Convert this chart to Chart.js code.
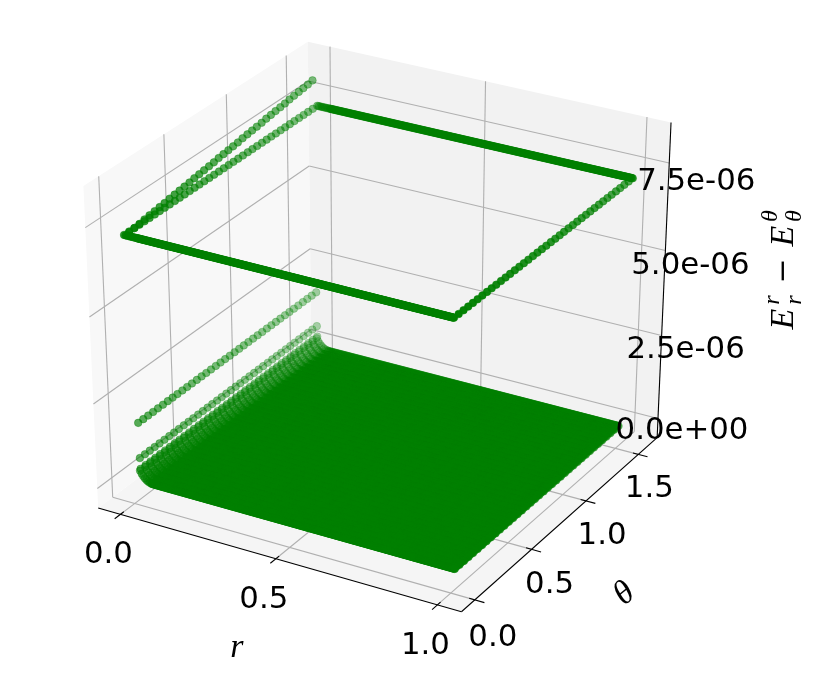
<!DOCTYPE html>
<html>
<head>
<meta charset="utf-8">
<title>chart</title>
<script src="https://cdn.jsdelivr.net/npm/chart.js@4"></script>
<style>
  html, body { margin: 0; padding: 0; background: #fff; }
  canvas { display: block; }
</style>
</head>
<body>
<canvas id="chart3d" width="830" height="699"></canvas>
<script>
// z values are in units of 1e-6
var rTicks = [0, 0.5, 1];
var thetaTicks = [0, 0.5, 1, 1.5];
var zTicks = [0, 2.5, 5, 7.5];
var rTickLabels = ["0.0", "0.5", "1.0"];
var thetaTickLabels = ["0.0", "0.5", "1.0", "1.5"];
var zTickLabels = ["0.0e+00", "2.5e-06", "5.0e-06", "7.5e-06"];

// r is coarse next to the axis, very fine after that
var rValues = [0, 0.005, 0.01, 0.015, 0.02, 0.025, 0.03, 0.035, 0.04,
    0.0425, 0.045, 0.0475, 0.05, 0.0525, 0.055, 0.0575, 0.06, 0.0625, 0.065, 0.0675, 0.07,
    0.0725, 0.075, 0.0775, 0.08, 0.0825, 0.085, 0.0875, 0.09, 0.0925, 0.095, 0.0975,
    0.1, 0.1025, 0.105, 0.1075, 0.11, 0.1125, 0.115, 0.1175, 0.12, 0.1225, 0.125, 0.1275,
    0.13, 0.1325, 0.135, 0.1375, 0.14, 0.1425, 0.145, 0.1475, 0.15, 0.1525, 0.155, 0.1575,
    0.16, 0.1625, 0.165, 0.1675, 0.17, 0.1725, 0.175, 0.1775, 0.18, 0.1825, 0.185, 0.1875,
    0.19, 0.1925, 0.195, 0.1975, 0.2, 0.2025, 0.205, 0.2075, 0.21, 0.2125, 0.215, 0.2175,
    0.22, 0.2225, 0.225, 0.2275, 0.23, 0.2325, 0.235, 0.2375, 0.24, 0.2425, 0.245, 0.2475,
    0.25, 0.2525, 0.255, 0.2575, 0.26, 0.2625, 0.265, 0.2675, 0.27, 0.2725, 0.275, 0.2775,
    0.28, 0.2825, 0.285, 0.2875, 0.29, 0.2925, 0.295, 0.2975, 0.3, 0.3025, 0.305, 0.3075,
    0.31, 0.3125, 0.315, 0.3175, 0.32, 0.3225, 0.325, 0.3275, 0.33, 0.3325, 0.335, 0.3375,
    0.34, 0.3425, 0.345, 0.3475, 0.35, 0.3525, 0.355, 0.3575, 0.36, 0.3625, 0.365, 0.3675,
    0.37, 0.3725, 0.375, 0.3775, 0.38, 0.3825, 0.385, 0.3875, 0.39, 0.3925, 0.395, 0.3975,
    0.4, 0.4025, 0.405, 0.4075, 0.41, 0.4125, 0.415, 0.4175, 0.42, 0.4225, 0.425, 0.4275,
    0.43, 0.4325, 0.435, 0.4375, 0.44, 0.4425, 0.445, 0.4475, 0.45, 0.4525, 0.455, 0.4575,
    0.46, 0.4625, 0.465, 0.4675, 0.47, 0.4725, 0.475, 0.4775, 0.48, 0.4825, 0.485, 0.4875,
    0.49, 0.4925, 0.495, 0.4975, 0.5, 0.5025, 0.505, 0.5075, 0.51, 0.5125, 0.515, 0.5175,
    0.52, 0.5225, 0.525, 0.5275, 0.53, 0.5325, 0.535, 0.5375, 0.54, 0.5425, 0.545, 0.5475,
    0.55, 0.5525, 0.555, 0.5575, 0.56, 0.5625, 0.565, 0.5675, 0.57, 0.5725, 0.575, 0.5775,
    0.58, 0.5825, 0.585, 0.5875, 0.59, 0.5925, 0.595, 0.5975, 0.6, 0.6025, 0.605, 0.6075,
    0.61, 0.6125, 0.615, 0.6175, 0.62, 0.6225, 0.625, 0.6275, 0.63, 0.6325, 0.635, 0.6375,
    0.64, 0.6425, 0.645, 0.6475, 0.65, 0.6525, 0.655, 0.6575, 0.66, 0.6625, 0.665, 0.6675,
    0.67, 0.6725, 0.675, 0.6775, 0.68, 0.6825, 0.685, 0.6875, 0.69, 0.6925, 0.695, 0.6975,
    0.7, 0.7025, 0.705, 0.7075, 0.71, 0.7125, 0.715, 0.7175, 0.72, 0.7225, 0.725, 0.7275,
    0.73, 0.7325, 0.735, 0.7375, 0.74, 0.7425, 0.745, 0.7475, 0.75, 0.7525, 0.755, 0.7575,
    0.76, 0.7625, 0.765, 0.7675, 0.77, 0.7725, 0.775, 0.7775, 0.78, 0.7825, 0.785, 0.7875,
    0.79, 0.7925, 0.795, 0.7975, 0.8, 0.8025, 0.805, 0.8075, 0.81, 0.8125, 0.815, 0.8175,
    0.82, 0.8225, 0.825, 0.8275, 0.83, 0.8325, 0.835, 0.8375, 0.84, 0.8425, 0.845, 0.8475,
    0.85, 0.8525, 0.855, 0.8575, 0.86, 0.8625, 0.865, 0.8675, 0.87, 0.8725, 0.875, 0.8775,
    0.88, 0.8825, 0.885, 0.8875, 0.89, 0.8925, 0.895, 0.8975, 0.9, 0.9025, 0.905, 0.9075,
    0.91, 0.9125, 0.915, 0.9175, 0.92, 0.9225, 0.925, 0.9275, 0.93, 0.9325, 0.935, 0.9375,
    0.94, 0.9425, 0.945, 0.9475, 0.95, 0.9525, 0.955, 0.9575, 0.96, 0.9625, 0.965, 0.9675,
    0.97, 0.9725, 0.975, 0.9775, 0.98, 0.9825, 0.985, 0.9875, 0.99, 0.9925, 0.995, 0.9975, 1];
var thetaValues = [0, 0.039, 0.079, 0.118, 0.157, 0.196, 0.236, 0.275, 0.314, 0.353,
    0.393, 0.432, 0.471, 0.511, 0.55, 0.589, 0.628, 0.668, 0.707, 0.746,
    0.785, 0.825, 0.864, 0.903, 0.942, 0.982, 1.021, 1.06, 1.1, 1.139,
    1.178, 1.217, 1.257, 1.296, 1.335, 1.374, 1.414, 1.453, 1.492, 1.532, 1.571];
// the sheet's far r side is smooth, so it has extra theta stations
var sheetRimR = [0.985, 0.99, 0.995];
var sheetRimTheta = [0.059, 0.098, 0.137, 0.177, 0.216, 0.255, 0.295, 0.334, 0.373, 0.412,
    0.452, 0.491, 0.53, 0.57, 0.609, 0.648, 0.687, 0.727, 0.766, 0.805,
    0.844, 0.884, 0.923, 0.962, 1.001, 1.041, 1.08, 1.119, 1.159, 1.198,
    1.237, 1.276, 1.316, 1.355, 1.394, 1.433, 1.473, 1.512];

// the outer edge of the grid sits up here
var edgeZ = 7.18;
// line that climbs above the edge, one value per inner theta
var climbingRowZ = [7.16, 7.18, 7.2, 7.23, 7.25, 7.27, 7.29, 7.31, 7.34, 7.36,
    7.38, 7.4, 7.42, 7.45, 7.47, 7.49, 7.51, 7.53, 7.56, 7.58,
    7.6, 7.62, 7.64, 7.67, 7.69, 7.71, 7.73, 7.75, 7.78, 7.8,
    7.82, 7.84, 7.86, 7.89, 7.91, 7.93, 7.95, 7.97, 8];
// lower rows next to r = 0
var nearAxisR = [0.005, 0.006, 0.007];
var nearAxisZ = [1.72, 0.68, 0.36];
// first inner rows of the sheet, the rest lie at 0
var sheetStartZ = [0.3, 0.22, 0.16, 0.11, 0.07, 0.04, 0.02, 0.01];

var rLim = [-0.0729, 1.0729];
var thetaLim = [-0.1145, 1.6853];
var zLim = [-0.587, 8.637];

// camera
var elev = 30 * Math.PI / 180, azim = -60 * Math.PI / 180, dist = 10;
var camN = [Math.cos(elev) * Math.cos(azim), Math.cos(elev) * Math.sin(azim), Math.sin(elev)];
var camU = [0.866025, 0.5, 0];
var camV = [-0.25, 0.433013, 0.866025];
var pxPerX = 4193, pxPerY = 3676, centerX = 382, centerY = 317;

function project(r, t, z) {
    var p = [(r - rLim[0]) / (rLim[1] - rLim[0]) - 0.5,
             (t - thetaLim[0]) / (thetaLim[1] - thetaLim[0]) - 0.5,
             (z - zLim[0]) / (zLim[1] - zLim[0]) - 0.5];
    var d = dist - (p[0] * camN[0] + p[1] * camN[1] + p[2] * camN[2]);
    return {
        x: (p[0] * camU[0] + p[1] * camU[1] + p[2] * camU[2]) / d,
        y: (p[0] * camV[0] + p[1] * camV[1] + p[2] * camV[2]) / d,
        depth: d
    };
}

// scatter points
var pts = [];
function addPoint(r, t, z) { pts.push(project(r, t, z)); }

for (var i = 0; i < rValues.length; i++) {
    for (var j = 0; j < thetaValues.length; j++) {
        var onEdge = i == 0 || i == rValues.length - 1 || j == 0 || j == thetaValues.length - 1;
        var z = 0;
        if (onEdge) z = edgeZ;
        else if (i - 1 < sheetStartZ.length) z = sheetStartZ[i - 1];
        addPoint(rValues[i], thetaValues[j], z);
    }
}
for (var j = 0; j < climbingRowZ.length; j++) {
    addPoint(0, thetaValues[j + 1], climbingRowZ[j]);
    for (var k = 0; k < nearAxisZ.length; k++) {
        addPoint(nearAxisR[k], thetaValues[j + 1], nearAxisZ[k]);
    }
}
sheetRimR.forEach(function(r) {
    sheetRimTheta.forEach(function(t) { addPoint(r, t, 0); });
});

var depths = pts.map(function(p) { return p.depth; });
var minDepth = Math.min.apply(null, depths), maxDepth = Math.max.apply(null, depths);
pts.sort(function(a, b) { return b.depth - a.depth; });
var pointColors = pts.map(function(p) {
    var a = 1 - 0.7 * (p.depth - minDepth) / (maxDepth - minDepth);
    return "rgba(0,128,0," + a.toFixed(3) + ")";
});

// box: panes, grid, axis lines, ticks
var datasets = [];
function addLine(a, b, color, width, order) {
    datasets.push({ showLine: true, data: [a, b], borderColor: color, borderWidth: width,
        pointRadius: 0, order: order, borderCapStyle: "butt" });
}
function addPane(corners, color) {
    datasets.push({ showLine: true, data: corners, fill: "shape", backgroundColor: color,
        borderColor: color, borderWidth: 0, pointRadius: 0, order: 9 });
}

var r0 = rLim[0], r1 = rLim[1], t0 = thetaLim[0], t1 = thetaLim[1], z0 = zLim[0], z1 = zLim[1];
addPane([project(r0, t0, z0), project(r0, t1, z0), project(r0, t1, z1), project(r0, t0, z1)], "rgb(248,248,248)");
addPane([project(r0, t1, z0), project(r1, t1, z0), project(r1, t1, z1), project(r0, t1, z1)], "rgb(242,242,242)");
addPane([project(r0, t0, z0), project(r1, t0, z0), project(r1, t1, z0), project(r0, t1, z0)], "rgb(245,245,245)");

var gridColor = "rgb(176,176,176)", gridWidth = 1.1;
rTicks.forEach(function(v) {
    addLine(project(v, t0, z0), project(v, t1, z0), gridColor, gridWidth, 8);
    addLine(project(v, t1, z0), project(v, t1, z1), gridColor, gridWidth, 8);
    addLine(project(v, t0 - 0.045, z0), project(v, t0 + 0.027, z0), "#000", 1.1, 6);
});
thetaTicks.forEach(function(v) {
    addLine(project(r1, v, z0), project(r0, v, z0), gridColor, gridWidth, 8);
    addLine(project(r0, v, z0), project(r0, v, z1), gridColor, gridWidth, 8);
    addLine(project(r1 + 0.029, v, z0), project(r1 - 0.017, v, z0), "#000", 1.1, 6);
});
zTicks.forEach(function(v) {
    addLine(project(r0, t0, v), project(r0, t1, v), gridColor, gridWidth, 8);
    addLine(project(r0, t1, v), project(r1, t1, v), gridColor, gridWidth, 8);
});
addLine(project(r0, t0, z0), project(r1, t0, z0), "#000", 1.1, 7);
addLine(project(r1, t0, z0), project(r1, t1, z0), "#000", 1.1, 7);
addLine(project(r1, t1, z0), project(r1, t1, z1), "#000", 1.1, 7);

datasets.push({
    data: pts,
    showLine: false,
    pointRadius: 3.8,
    pointBorderWidth: 0.6,
    pointBackgroundColor: pointColors,
    pointBorderColor: pointColors,
    order: 1
});

// tick labels and axis labels
var tickFont = '30.8px "DejaVu Sans"';
var mathFont = 'italic 34px "Liberation Serif"';
var rLabelOffset = [-12, 41];
var thetaLabelOffset = [[18, 38], [18, 36], [16, 35], [11, 35]];
var zLabelOffset = [[24, 13], [24, 14], [25, 16], [27, 19]];

var labelPlugin = {
    id: "labels3d",
    afterDatasetsDraw: function(chart) {
        var c = chart.ctx, sx = chart.scales.x, sy = chart.scales.y;
        function px(p) { return [sx.getPixelForValue(p.x), sy.getPixelForValue(p.y)]; }
        function text(str, x, y, font, angle) {
            c.save();
            c.translate(x, y);
            c.rotate(angle || 0);
            c.font = font;
            c.textAlign = "center";
            c.textBaseline = "middle";
            c.fillStyle = "#000";
            c.fillText(str, 0, 0);
            c.restore();
        }
        rTicks.forEach(function(v, n) {
            var q = px(project(v, t0, z0));
            text(rTickLabels[n], q[0] + rLabelOffset[0], q[1] + rLabelOffset[1], tickFont);
        });
        thetaTicks.forEach(function(v, n) {
            var q = px(project(r1, v, z0));
            text(thetaTickLabels[n], q[0] + thetaLabelOffset[n][0], q[1] + thetaLabelOffset[n][1], tickFont);
        });
        zTicks.forEach(function(v, n) {
            var q = px(project(r1, t1, v));
            text(zTickLabels[n], q[0] + zLabelOffset[n][0], q[1] + zLabelOffset[n][1], tickFont);
        });
        var mid = px(project(0.5, t0, z0));
        text("r", mid[0] - 39, mid[1] + 89, mathFont);
        var midT = px(project(r1, 0.8, z0));
        text("θ", midT[0] + 60, midT[1] + 74, mathFont, -0.7);

        // E_r^r - E_θ^θ reads upwards along the right side
        var small = 'italic 24px "Liberation Serif"';
        var mx = px(project(r1, t1, 4.0));
        var xb = mx[0] + 120;
        text("E", xb, 319, mathFont, -Math.PI / 2);
        text("r", xb - 11, 300, small, -Math.PI / 2);
        text("r", xb + 11, 300, small, -Math.PI / 2);
        text("−", xb, 271, '30px "DejaVu Serif"', -Math.PI / 2);
        text("E", xb, 236, mathFont, -Math.PI / 2);
        text("θ", xb - 13, 216, small, -Math.PI / 2);
        text("θ", xb + 11, 216, small, -Math.PI / 2);
    }
};

var ctx = document.getElementById("chart3d").getContext("2d");
var chart = new Chart(ctx, {
    type: "scatter",
    data: { datasets: datasets },
    plugins: [labelPlugin],
    options: {
        responsive: false,
        animation: false,
        events: [],
        layout: { padding: 0, autoPadding: false },
        plugins: { legend: { display: false }, tooltip: { enabled: false } },
        elements: { line: { tension: 0 } },
        scales: {
            x: { display: false, min: -centerX / pxPerX, max: (830 - centerX) / pxPerX },
            y: { display: false, min: -(699 - centerY) / pxPerY, max: centerY / pxPerY }
        }
    }
});
</script>
</body>
</html>
